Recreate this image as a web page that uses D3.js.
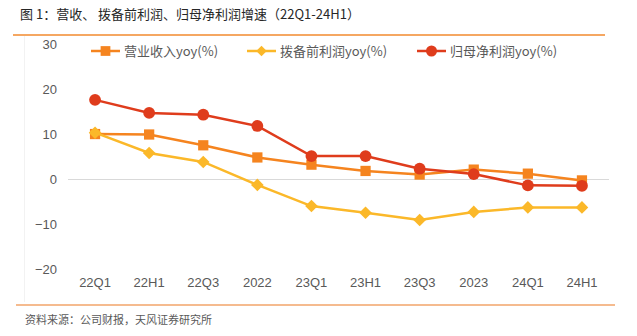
<!DOCTYPE html>
<html>
<head>
<meta charset="utf-8">
<script src="https://cdn.jsdelivr.net/npm/d3@7"></script>
<style>
  body { margin: 0; background: #fff; }
  svg { display: block; font-family: "Noto Sans CJK SC", "Noto Sans", sans-serif; }
</style>
</head>
<body>
<svg id="chart" width="637" height="336"></svg>
<script>
// 数据
var categories = ["22Q1", "22H1", "22Q3", "2022", "23Q1", "23H1", "23Q3", "2023", "24Q1", "24H1"];
var revenue = [10.1, 10.0, 7.6, 4.9, 3.3, 1.9, 1.1, 2.2, 1.3, -0.2];
var preProvision = [10.4, 5.9, 3.9, -1.2, -5.9, -7.4, -9.0, -7.2, -6.2, -6.2];
var netProfit = [17.7, 14.8, 14.4, 11.9, 5.2, 5.2, 2.4, 1.2, -1.3, -1.4];
var yTicks = [30, 20, 10, 0, -10, -20];

var seriesNames = ["营业收入yoy(%)", "拨备前利润yoy(%)", "归母净利润yoy(%)"];
var seriesColors = ["#F5841F", "#FBB829", "#DF3C1C"];
var seriesShapes = [d3.symbolSquare, d3.symbolSquare, d3.symbolCircle];
var seriesRotate = [0, 45, 0];
var seriesData = [revenue, preProvision, netProfit];

var svg = d3.select("#chart");

var x = d3.scaleBand().domain(categories).range([68, 609]);
var y = d3.scaleLinear().domain([-20, 30]).range([269.5, 44.5]);

// 标题
svg.append("text")
    .attr("x", 20).attr("y", 19)
    .attr("font-size", 13).attr("font-weight", "normal")
    .attr("fill", "#262626")
    .text("图 1：营收、 拨备前利润、归母净利润增速（22Q1-24H1）");

svg.append("line")
    .attr("x1", 13).attr("x2", 605).attr("y1", 35).attr("y2", 35)
    .attr("stroke", "#F28A2E").attr("stroke-width", 1.5);

// 左边浅色边框
svg.append("line")
    .attr("x1", 24.5).attr("x2", 24.5).attr("y1", 36).attr("y2", 302)
    .attr("stroke", "#f2f2f2").attr("stroke-width", 1);

// 零线
svg.append("line")
    .attr("x1", 68).attr("x2", 609).attr("y1", y(0)).attr("y2", y(0))
    .attr("stroke", "#d9d9d9").attr("stroke-width", 1);

// y 轴
var yAxis = svg.append("g")
    .attr("transform", "translate(57,0)")
    .call(d3.axisLeft(y).tickValues(yTicks).tickSize(0).tickPadding(0));
yAxis.select(".domain").remove();
yAxis.selectAll("text")
    .attr("font-size", 13).attr("fill", "#595959")
    .attr("font-family", "Liberation Sans, Arial, sans-serif");

// x 轴
var xAxis = svg.append("g")
    .attr("transform", "translate(0,278)")
    .call(d3.axisBottom(x).tickSize(0).tickPadding(0));
xAxis.select(".domain").remove();
xAxis.selectAll("text")
    .attr("font-size", 13).attr("fill", "#595959")
    .attr("font-family", "Liberation Sans, Arial, sans-serif");

// 折线
var line = d3.line()
    .x(function (d, i) { return x(categories[i]) + x.bandwidth() / 2; })
    .y(function (d) { return y(d); });

var symbolSizes = [105, 80, 110];

seriesData.forEach(function (data, k) {
    svg.append("path")
        .attr("d", line(data))
        .attr("fill", "none")
        .attr("stroke", seriesColors[k])
        .attr("stroke-width", 2.5);

    svg.append("g").selectAll("path")
        .data(data)
        .enter().append("path")
        .attr("transform", function (d, i) {
            return "translate(" + (x(categories[i]) + x.bandwidth() / 2) + "," + y(d) + ") rotate(" + seriesRotate[k] + ")";
        })
        .attr("d", d3.symbol().type(seriesShapes[k]).size(symbolSizes[k]))
        .attr("fill", seriesColors[k]);
});

// 图例
var legendX = [91, 247, 417];
var legend = svg.append("g");
seriesNames.forEach(function (name, k) {
    var lx = legendX[k];
    legend.append("line")
        .attr("x1", lx).attr("x2", lx + 29).attr("y1", 51).attr("y2", 51)
        .attr("stroke", seriesColors[k]).attr("stroke-width", 2.5);
    legend.append("path")
        .attr("transform", "translate(" + (lx + 14.5) + ",51) rotate(" + seriesRotate[k] + ")")
        .attr("d", d3.symbol().type(seriesShapes[k]).size(k === 1 ? 55 : 95))
        .attr("fill", seriesColors[k]);
    legend.append("text")
        .attr("x", lx + 33).attr("y", 56)
        .attr("font-size", 13).attr("fill", "#595959")
        .text(name);
});

// 底部线和来源
svg.append("line")
    .attr("x1", 16).attr("x2", 615).attr("y1", 305).attr("y2", 305)
    .attr("stroke", "#F2A46A").attr("stroke-width", 1.5);

svg.append("text")
    .attr("x", 25).attr("y", 324)
    .attr("font-size", 11).attr("fill", "#595959")
    .text("资料来源：公司财报，天风证券研究所");
</script>
</body>
</html>
